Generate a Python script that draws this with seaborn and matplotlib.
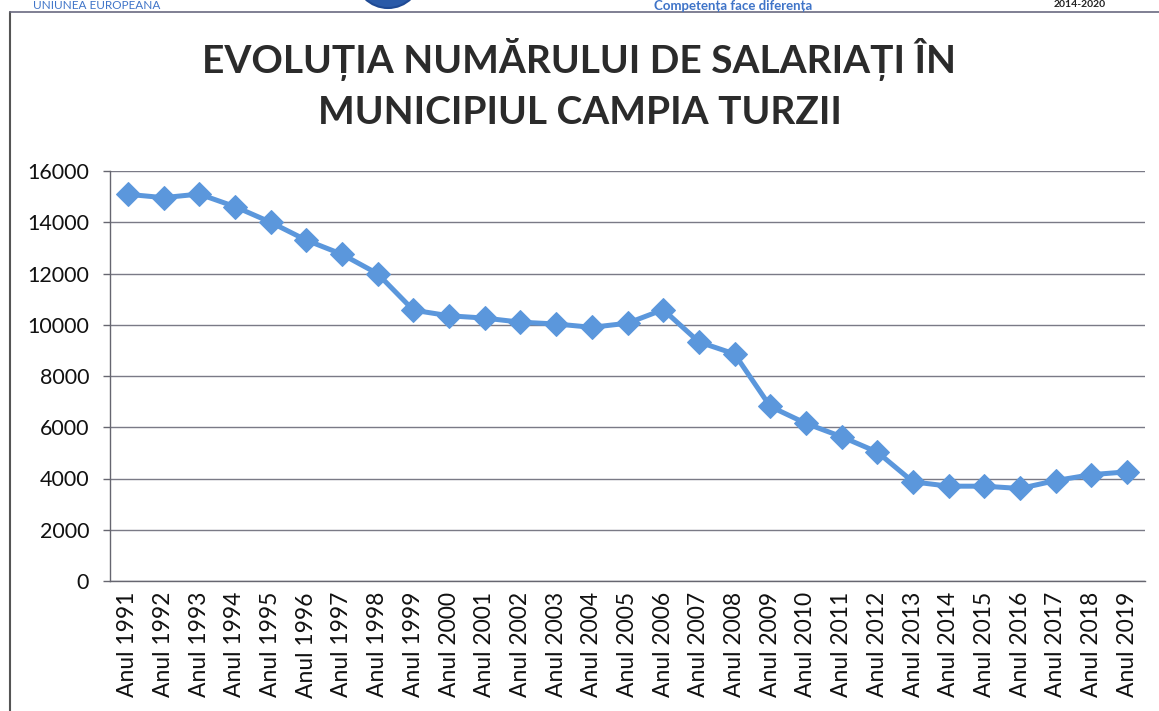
import matplotlib.pyplot as plt
from matplotlib.patches import Ellipse
from matplotlib.ticker import MultipleLocator
import pandas as pd
import seaborn as sns

years = list(range(1991, 2020))
labels = ["Anul %d" % y for y in years]
salariati = [15090, 14960, 15100, 14610, 14000, 13300, 12750, 11990, 10570, 10350,
             10260, 10100, 10030, 9900, 10060, 10590, 9330, 8860, 6810, 6150,
             5630, 5030, 3870, 3700, 3700, 3610, 3920, 4150, 4260]

title = "EVOLUȚIA NUMĂRULUI DE SALARIAȚI ÎN\nMUNICIPIUL CAMPIA TURZII"

data = pd.DataFrame({"an": labels, "salariati": salariati})

sns.set_style("white")
plt.rcParams["font.family"] = ["Lato", "DejaVu Sans"]

fig = plt.figure(figsize=(11.59, 7.11), dpi=100)
ax = fig.add_axes([110 / 1159, 1 - 581 / 711, 1035 / 1159, 410 / 711])

blue = "#5b97dc"
sns.lineplot(data=data, x="an", y="salariati", sort=False, color=blue, linewidth=3.6,
             marker="D", markersize=12, markeredgecolor=blue, ax=ax, zorder=3)

ax.set_ylim(0, 16000)
ax.set_xlim(-0.5, len(labels) - 0.5)
ax.yaxis.set_major_locator(MultipleLocator(2000))
ax.grid(True, axis="y", color="#7a7a86", linewidth=1.0)
ax.set_xlabel("")
ax.set_ylabel("")
ax.set_xticks(range(len(labels)))
ax.set_xticklabels(labels, rotation=90, fontsize=16.5, color="#111111")
ax.set_xticks([i - 0.5 for i in range(len(labels) + 1)], minor=True)
ax.tick_params(axis="x", which="major", length=0, pad=8)
ax.tick_params(axis="x", which="minor", length=5, width=1, color="#666670", direction="out")
ax.tick_params(axis="y", length=5, width=1, color="#666670", direction="out", left=True,
               labelsize=15.5, labelcolor="#111111", pad=10)
for s in ["top", "right"]:
    ax.spines[s].set_visible(False)
for s in ["left", "bottom"]:
    ax.spines[s].set_color("#666670")
    ax.spines[s].set_linewidth(1.0)

fig.text(0.5, 1 - 84 / 711, title, ha="center", va="center", fontsize=28, fontweight="bold",
         color="#2b2b2b", linespacing=1.5)

# frame and cropped header of the scanned page
fig.add_artist(plt.Line2D([10 / 1159, 10 / 1159], [0, 1 - 12 / 711], color="#555555", linewidth=1.5))
fig.add_artist(plt.Line2D([10 / 1159, 1], [1 - 12 / 711, 1 - 12 / 711], color="#6a6a80", linewidth=1.2))
fig.add_artist(Ellipse((388 / 1159, 1 + 25 / 711), 66 / 1159, 66 / 711, transform=fig.transFigure,
                       facecolor="#2a5aa8", edgecolor="#1f4a94", linewidth=1.5))
fig.text(33 / 1159, 1, "UNIUNEA EUROPEANĂ", color="#3f74c8", fontsize=8.5, va="top")
fig.text(733 / 1159, 1, "Competența face diferența", color="#3f74c8", fontsize=9.5,
         fontweight="bold", va="top", ha="center")
fig.text(1080 / 1159, 1, "2014-2020", color="#222222", fontsize=7.5, fontweight="bold",
         ha="center", va="top")

fig.savefig("out.png", dpi=100)
